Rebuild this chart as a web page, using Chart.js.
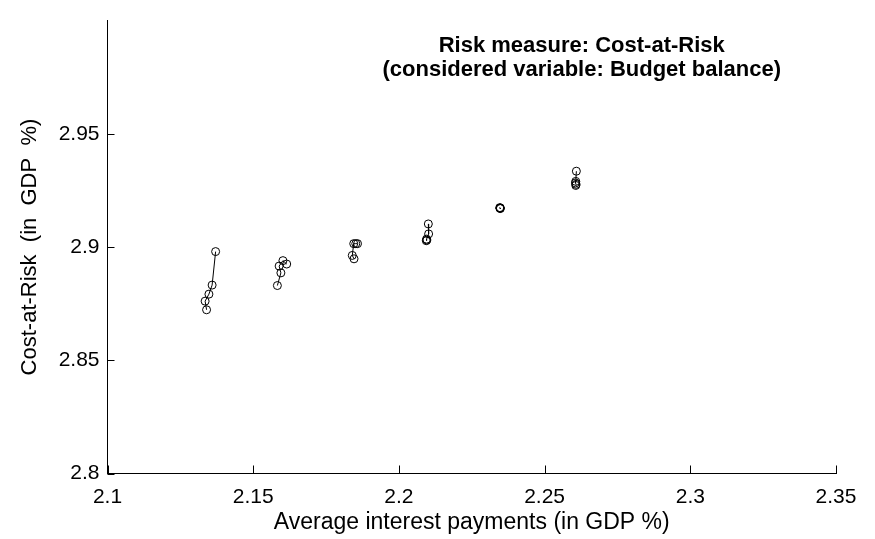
<!DOCTYPE html>
<html>
<head>
<meta charset="utf-8">
<script src="https://cdn.jsdelivr.net/npm/chart.js@4/dist/chart.umd.min.js"></script>
<style>
    html, body { margin: 0; padding: 0; background: #fff; }
    #wrap { width: 875px; height: 539px; }
</style>
</head>
<body>
<div id="wrap"><canvas id="chart"></canvas></div>
<script>
// one small path per group of portfolios
const groupA_x = [2.1371, 2.1359, 2.1348, 2.1335, 2.1340];
const groupA_y = [2.8980, 2.8832, 2.8792, 2.8761, 2.8723];
const groupB_x = [2.1583, 2.1595, 2.1589, 2.1602, 2.1615];
const groupB_y = [2.8830, 2.8886, 2.8916, 2.8940, 2.8925];
const groupC_x = [2.1858, 2.1852, 2.1845, 2.1840, 2.1846];
const groupC_y = [2.9015, 2.9015, 2.9015, 2.8963, 2.8948];
const groupD_x = [2.2101, 2.2102, 2.2095, 2.2094, 2.2096];
const groupD_y = [2.9102, 2.9058, 2.9035, 2.9028, 2.9031];
const groupE_x = [2.2347, 2.2348, 2.2346, 2.2347, 2.2348];
const groupE_y = [2.9172, 2.9170, 2.9174, 2.9171, 2.9173];
const groupF_x = [2.2609, 2.2607, 2.2606, 2.2608, 2.2607];
const groupF_y = [2.9335, 2.9290, 2.9283, 2.9277, 2.9272];

const xTicks = [2.1, 2.15, 2.2, 2.25, 2.3, 2.35];
const yTicks = [2.8, 2.85, 2.9, 2.95];

const titleLines = ['Risk measure: Cost-at-Risk', '(considered variable: Budget balance)'];
const xTitle = 'Average interest payments (in GDP %)';
const yTitle = 'Cost-at-Risk  (in  GDP  %)';

function toPoints(xs, ys) {
    return xs.map((x, i) => ({ x: x, y: ys[i] }));
}

const groups = [
    [groupA_x, groupA_y], [groupB_x, groupB_y], [groupC_x, groupC_y],
    [groupD_x, groupD_y], [groupE_x, groupE_y], [groupF_x, groupF_y]
];

const datasets = groups.map(g => ({
    data: toPoints(g[0], g[1]),
    showLine: true,
    borderColor: '#000',
    borderWidth: 1,
    pointRadius: 4,
    pointBorderWidth: 1,
    pointBorderColor: '#000',
    pointBackgroundColor: 'rgba(0,0,0,0)',
    tension: 0
}));

// ticks point into the plot area, like the original
const innerTicks = {
    id: 'innerTicks',
    afterDraw(chart) {
        const ctx = chart.ctx;
        const xs = chart.scales.x, ys = chart.scales.y;
        const area = chart.chartArea;
        ctx.save();
        ctx.strokeStyle = '#000';
        ctx.lineWidth = 1;
        ctx.beginPath();
        xTicks.forEach(v => {
            const px = Math.round(xs.getPixelForValue(v)) + 0.5;
            ctx.moveTo(px, area.bottom);
            ctx.lineTo(px, area.bottom - 8);
        });
        yTicks.forEach(v => {
            const py = Math.round(ys.getPixelForValue(v)) + 0.5;
            ctx.moveTo(area.left, py);
            ctx.lineTo(area.left + 7, py);
        });
        ctx.stroke();

        // two line title inside the plot
        ctx.fillStyle = '#000';
        ctx.font = 'bold 22px "Liberation Sans", Arial, sans-serif';
        ctx.textAlign = 'center';
        ctx.textBaseline = 'middle';
        const cx = area.left + area.width * 0.651;
        ctx.fillText(titleLines[0], cx, area.top + 25);
        ctx.fillText(titleLines[1], cx, area.top + 49);
        ctx.restore();
    }
};

Chart.defaults.font.family = '"Liberation Sans", Arial, sans-serif';
Chart.defaults.color = '#000';

new Chart(document.getElementById('chart'), {
    type: 'scatter',
    data: { datasets: datasets },
    options: {
        responsive: true,
        maintainAspectRatio: false,
        animation: false,
        layout: { padding: { top: 18, right: 39, left: 0, bottom: 0 } },
        plugins: {
            legend: { display: false },
            tooltip: { enabled: false }
        },
        scales: {
            x: {
                type: 'linear',
                min: 2.1,
                max: 2.35,
                afterBuildTicks: s => { s.ticks = xTicks.map(v => ({ value: v })); },
                afterFit: s => { s.height = 65.5; },
                ticks: {
                    font: { size: 21 },
                    padding: 11,
                    maxRotation: 0,
                    callback: v => String(Math.round(v * 100) / 100)
                },
                grid: { drawOnChartArea: false, drawTicks: false },
                border: { display: true, color: '#000', width: 1 },
                title: {
                    display: true,
                    text: xTitle,
                    font: { size: 23 },
                    padding: { top: 0, bottom: 3 }
                }
            },
            y: {
                type: 'linear',
                min: 2.8,
                max: 3.0,
                afterBuildTicks: s => { s.ticks = yTicks.map(v => ({ value: v })); },
                afterFit: s => { s.width = 107.5; },
                ticks: {
                    font: { size: 21 },
                    padding: 8,
                    callback: v => String(Math.round(v * 100) / 100)
                },
                grid: { drawOnChartArea: false, drawTicks: false },
                border: { display: true, color: '#000', width: 1 },
                title: {
                    display: true,
                    text: yTitle,
                    font: { size: 22 },
                    padding: { top: 17, bottom: 0 }
                }
            }
        }
    },
    plugins: [innerTicks]
});
</script>
</body>
</html>
